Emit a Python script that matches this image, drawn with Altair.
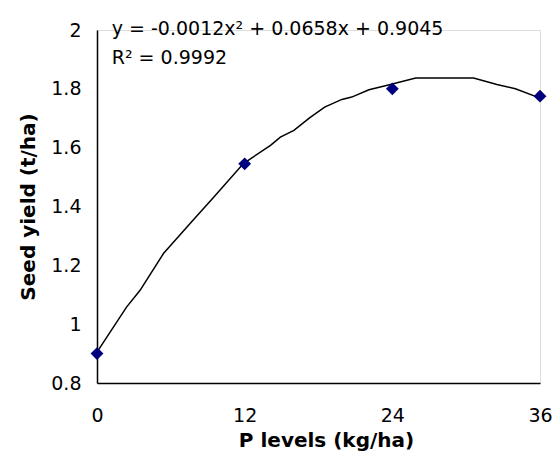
import altair as alt
import pandas as pd

# Observed data
p_levels = [0, 12, 24, 36]
seed_yield = [0.90, 1.545, 1.80, 1.775]

# Trend line
curve_x = [0, 2.4, 3.5, 5.4, 7.8, 9.5, 11.9, 14.1, 14.9, 16.0, 17.3, 18.5, 19.9, 20.7,
           22.1, 23.6, 25.9, 30.6, 32.5, 34.0, 35.9]
curve_y = [0.905, 1.058, 1.115, 1.24, 1.353, 1.432, 1.546, 1.608, 1.636, 1.659, 1.702,
           1.738, 1.764, 1.772, 1.797, 1.812, 1.837, 1.837, 1.815, 1.80, 1.77]

x_ticks = [0, 12, 24, 36]
y_ticks = [0.8, 1.0, 1.2, 1.4, 1.6, 1.8, 2.0]

eq_lines = ["y = -0.0012x\u00b2 + 0.0658x + 0.9045", "R\u00b2 = 0.9992"]
eq_x = [1.2, 1.2]
eq_y = [2.003, 1.904]

pts = pd.DataFrame({"x": p_levels, "y": seed_yield})
curve = pd.DataFrame({"x": curve_x, "y": curve_y})
eq = pd.DataFrame({"t": eq_lines, "x": eq_x, "y": eq_y})

FONT = "DejaVu Sans"

xscale = alt.Scale(domain=[0, 36], nice=False, zero=False)
yscale = alt.Scale(domain=[0.8, 2.0], nice=False, zero=False)

xaxis = alt.Axis(values=x_ticks, title="P levels (kg/ha)", grid=False, ticks=False,
                 domainColor="black", domainWidth=1.5, labelFont=FONT, labelFontSize=19,
                 labelColor="black", labelPadding=23, titleFont=FONT, titleFontSize=20,
                 titleFontWeight="bold", titleColor="black", titlePadding=5, labelFlush=False,
                 titleX=229, titleAlign="center")
yaxis = alt.Axis(values=y_ticks, title="Seed yield (t/ha)", grid=False, ticks=False,
                 domainColor="black", domainWidth=1.5, labelFont=FONT, labelFontSize=19,
                 labelColor="black", labelPadding=16, titleFont=FONT, titleFontSize=20,
                 titleFontWeight="bold", titleColor="black", titlePadding=12,
                 labelExpr="format(datum.value, '.1~f')", labelFlush=False)

line = alt.Chart(curve).mark_line(color="black", strokeWidth=1.5).encode(
    x=alt.X("x:Q", scale=xscale, axis=xaxis),
    y=alt.Y("y:Q", scale=yscale, axis=yaxis),
)
points = alt.Chart(pts).mark_point(shape="diamond", filled=True, color="#00007f",
                                   size=165, opacity=1).encode(
    x=alt.X("x:Q", scale=xscale),
    y=alt.Y("y:Q", scale=yscale),
)
text = alt.Chart(eq).mark_text(align="left", baseline="middle", font=FONT, fontSize=19,
                               color="black").encode(
    x=alt.X("x:Q", scale=xscale),
    y=alt.Y("y:Q", scale=yscale),
    text="t:N",
)

chart = (line + points + text).properties(
    width=443, height=353,
    autosize=alt.AutoSizeParams(type="none"),
    padding={"left": 97, "top": 30, "right": 12, "bottom": 74},
).configure_view(stroke=None).configure(background="white")

chart.save("out.html", embed_options={"renderer": "svg", "actions": False})
